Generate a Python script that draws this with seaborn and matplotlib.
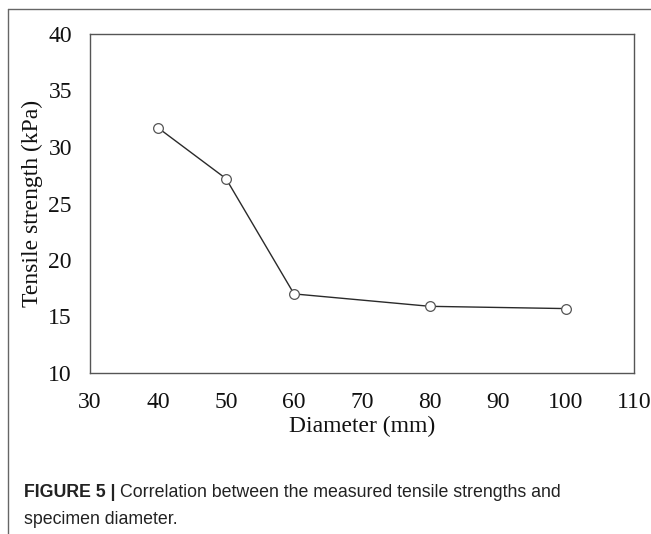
import matplotlib
matplotlib.use("Agg")
import matplotlib.pyplot as plt
import seaborn as sns
import pandas as pd
from matplotlib.lines import Line2D

diameter = [40, 50, 60, 80, 100]
strength = [31.7, 27.2, 17.0, 15.9, 15.7]
x_ticks = [30, 40, 50, 60, 70, 80, 90, 100, 110]
y_ticks = [10, 15, 20, 25, 30, 35, 40]

df = pd.DataFrame({"Diameter (mm)": diameter, "Tensile strength (kPa)": strength})

sns.set_style("white")
plt.rcParams["font.family"] = ["Liberation Serif", "DejaVu Serif"]

W, H = 651, 534
fig = plt.figure(figsize=(W / 100, H / 100), dpi=100)
ax = fig.add_axes([90 / W, 1 - 373 / H, 544 / W, 339 / H])

sns.lineplot(data=df, x="Diameter (mm)", y="Tensile strength (kPa)", ax=ax,
             color="#2a2a2a", linewidth=1.0, marker="o", markersize=7,
             markerfacecolor="white", markeredgecolor="#555555", markeredgewidth=0.9)

ax.set_xlim(30, 110)
ax.set_ylim(10, 40)
ax.set_xticks(x_ticks)
ax.set_yticks(y_ticks)
ax.tick_params(axis="both", direction="in", length=5, width=0.8, colors="#444444",
               labelsize=17, labelcolor="#111111")
ax.tick_params(axis="x", pad=14)
ax.tick_params(axis="y", pad=13)
for s in ax.spines.values():
    s.set_color("#555555")
    s.set_linewidth(1.0)
ax.set_xlabel("Diameter (mm)", fontsize=17, color="#111111", labelpad=2)
ax.set_ylabel("Tensile strength (kPa)", fontsize=17, color="#111111", labelpad=4)

# outer frame lines
fig.add_artist(Line2D([8 / W, 1], [1 - 9 / H, 1 - 9 / H], transform=fig.transFigure,
                      color="#666666", linewidth=1.0))
fig.add_artist(Line2D([8 / W, 8 / W], [0, 1 - 9 / H], transform=fig.transFigure,
                      color="#666666", linewidth=1.0))

cap_font = ["Liberation Sans", "DejaVu Sans"]
fs = 12.8
t1 = fig.text(24 / W, 1 - 497 / H, "FIGURE 5 |", fontsize=fs, fontweight="bold",
              family=cap_font, color="#222222", va="baseline", ha="left")
fig.canvas.draw()
bb = t1.get_window_extent(renderer=fig.canvas.get_renderer())
fig.text((bb.x1 + 5) / W, 1 - 497 / H, "Correlation between the measured tensile strengths and",
         fontsize=fs, family=cap_font, color="#222222", va="baseline", ha="left")
fig.text(24 / W, 1 - 524 / H, "specimen diameter.", fontsize=fs,
         family=cap_font, color="#222222", va="baseline", ha="left")

fig.savefig("out.png", dpi=100)
